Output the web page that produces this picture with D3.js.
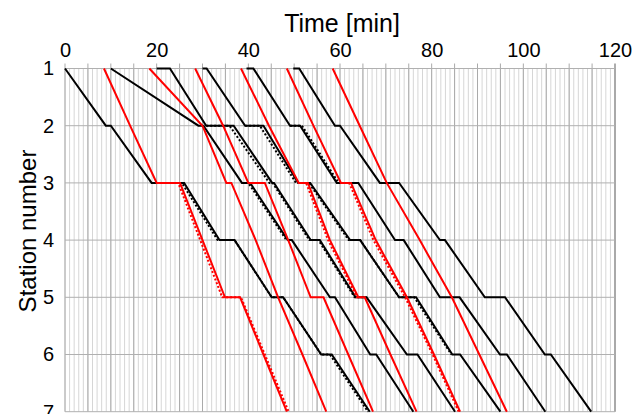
<!DOCTYPE html>
<html><head><meta charset="utf-8">
<script src="https://cdn.jsdelivr.net/npm/d3@7"></script>
<style>
body{margin:0;background:#fff}
svg{display:block}
text{font-family:"Liberation Sans",Arial,sans-serif;fill:#000}
</style>
</head><body>
<svg id="chart" width="633" height="414"></svg>
<script>
// ---- data: [time in min, station number] ----
const timeTicks = [0, 20, 40, 60, 80, 100, 120];
const stationTicks = [1, 2, 3, 4, 5, 6, 7];

const blackTrain1 = [[0,1],[8.9,2],[10.0,2],[18.9,3],[26.0,3],[33.7,4],[37.0,4],[45.1,5],[47.6,5],[55.9,6],[58.2,6],[66.5,7]];
const blackTrain2 = [[10.0,1],[29.1,2],[30.2,2],[38.6,3],[40.4,3],[48.6,4],[49.5,4],[57.8,5],[58.9,5],[66.6,6],[67.9,6],[76.0,7]];
const blackTrain3 = [[20.0,1],[22.9,1],[30.8,2],[36.8,2],[45.2,3],[45.6,3],[53.6,4],[55.6,4],[63.4,5],[65.8,5],[74.6,6],[76.9,6],[85.1,7]];
const blackTrain4 = [[30.0,1],[30.9,1],[39.3,2],[43.3,2],[50.9,3],[53.5,3],[62.2,4],[64.4,4],[72.9,5],[76.6,5],[84.5,6],[86.2,6],[95.0,7]];
const blackTrain5 = [[39.6,1],[41.1,1],[49.1,2],[51.3,2],[59.3,3],[64.0,3],[72.0,4],[73.9,4],[81.8,5],[86.1,5],[94.9,6],[96.4,6],[104.8,7]];
const blackTrain6 = [[49.8,1],[51.1,1],[58.9,2],[60.0,2],[68.7,3],[72.9,3],[81.8,4],[82.9,4],[91.6,5],[96.0,5],[104.7,6],[106.0,6],[114.8,7]];

const redTrain1 = [[8.5,1],[14.2,2],[20.0,3],[25.1,3],[30.0,4],[34.9,5],[38.2,5],[43.3,6],[48.4,7]];
const redTrain2 = [[18.4,1],[30.0,2],[35.2,3],[36.3,3],[41.6,4],[46.5,5],[51.8,6],[57.0,7]];
const redTrain3 = [[28.4,1],[34.5,2],[40.0,3],[43.6,3],[48.7,4],[53.6,5],[56.4,5],[61.8,6],[67.2,7]];
const redTrain4 = [[38.4,1],[44.5,2],[51.0,3],[53.0,3],[57.8,4],[64.0,5],[65.4,5],[71.0,6],[76.7,7]];
const redTrain5 = [[48.4,1],[54.2,2],[60.2,3],[62.4,3],[67.8,4],[74.6,5],[80.5,6],[86.2,7]];
const redTrain6 = [[58.4,1],[64.3,2],[70.2,3],[77.4,4],[84.4,5],[90.4,6],[96.4,7]];

// dotted (planned) paths
const blackPlan1 = [[18.9,3],[25.5,3],[33.3,4],[37.0,4],[45.1,5],[47.6,5],[55.9,6],[57.8,6],[66.1,7]];
const blackPlan2 = [[38.6,3],[40.0,3],[48.3,4],[49.5,4]];
const blackPlan3 = [[30.8,2],[35.9,2],[44.6,3],[45.3,3],[53.3,4],[55.3,4],[63.2,5],[65.8,5]];
const blackPlan4 = [[39.3,2],[42.5,2],[50.4,3],[53.2,3],[61.9,4],[64.4,4],[72.9,5],[76.2,5],[84.3,6]];
const blackPlan5 = [[49.1,2],[51.7,2],[59.7,3],[64.0,3]];
const redPlan1 = [[20.0,3],[24.7,3],[29.5,4],[34.3,5],[38.4,5],[43.6,6],[48.8,7]];
const redPlan4 = [[51.0,3],[52.6,3],[57.4,4],[63.7,5],[65.4,5]];
const redPlan5 = [[60.2,3],[62.0,3],[67.3,4],[74.2,5],[80.2,6],[85.9,7]];

const blackSolid = [blackTrain1, blackTrain2, blackTrain3, blackTrain4, blackTrain5, blackTrain6];
const redSolid = [redTrain1, redTrain2, redTrain3, redTrain4, redTrain5, redTrain6];
const blackDotted = [blackPlan1, blackPlan2, blackPlan3, blackPlan4, blackPlan5];
const redDotted = [redPlan1, redPlan4, redPlan5];

// ---- drawing ----
const svg = d3.select('#chart');
const x = d3.scaleLinear().domain([0, 120]).range([65, 615]);
const y = d3.scaleLinear().domain([1, 7]).range([68.5, 411.7]);
const [y0, y1] = y.range();

const grid = svg.append('g');
grid.selectAll('line.minor').data(x.ticks(120)).join('line')
  .attr('class','minor')
  .attr('x1', d => x(d)).attr('x2', d => x(d))
  .attr('y1', y0).attr('y2', y1)
  .attr('stroke', '#d6d6d6').attr('stroke-width', 1);
grid.selectAll('line.major').data(x.ticks(24)).join('line')
  .attr('class','major')
  .attr('x1', d => x(d)).attr('x2', d => x(d))
  .attr('y1', y0 - 5).attr('y2', y1)
  .attr('stroke', d => d === 120 ? '#999' : '#aaa')
  .attr('stroke-width', d => d === 120 ? 1.6 : 1);
grid.selectAll('line.h').data(stationTicks).join('line')
  .attr('class','h')
  .attr('x1', x(0)).attr('x2', x(120))
  .attr('y1', d => y(d)).attr('y2', d => y(d))
  .attr('stroke', '#b0b0b0').attr('stroke-width', 1);

const xAxis = d3.axisTop(x).tickValues(timeTicks).tickSize(0).tickPadding(12);
const gx = svg.append('g').attr('transform', `translate(0,${y0})`).call(xAxis);
gx.select('.domain').remove();
gx.selectAll('text').style('font-size','20px').style('font-family','"Liberation Sans",Arial,sans-serif').attr('fill','#000');

const yAxis = d3.axisLeft(y).tickValues(stationTicks).tickFormat(d3.format('d')).tickSize(0).tickPadding(11);
const gy = svg.append('g').attr('transform', `translate(${x(0)},0)`).call(yAxis);
gy.select('.domain').remove();
gy.selectAll('text').style('font-size','20px').style('font-family','"Liberation Sans",Arial,sans-serif').attr('fill','#000');

svg.append('text').attr('x', 342).attr('y', 32).attr('text-anchor','middle')
  .style('font-size','25px').text('Time [min]');
svg.append('text').attr('transform','translate(36,231) rotate(-90)').attr('text-anchor','middle')
  .style('font-size','24px').text('Station number');

const line = d3.line().x(d => x(d[0])).y(d => y(d[1]));
const plot = svg.append('g');
plot.selectAll('path.bd').data(blackDotted).join('path')
  .attr('d', line).attr('fill','none').attr('stroke','#000').attr('stroke-width',2).attr('stroke-dasharray','2,2');
plot.selectAll('path.bs').data(blackSolid).join('path')
  .attr('d', line).attr('fill','none').attr('stroke','#000').attr('stroke-width',2);
plot.selectAll('path.rd').data(redDotted).join('path')
  .attr('d', line).attr('fill','none').attr('stroke','#ff0000').attr('stroke-width',2).attr('stroke-dasharray','2,2');
plot.selectAll('path.rs').data(redSolid).join('path')
  .attr('d', line).attr('fill','none').attr('stroke','#ff0000').attr('stroke-width',2);
</script>
</body></html>
